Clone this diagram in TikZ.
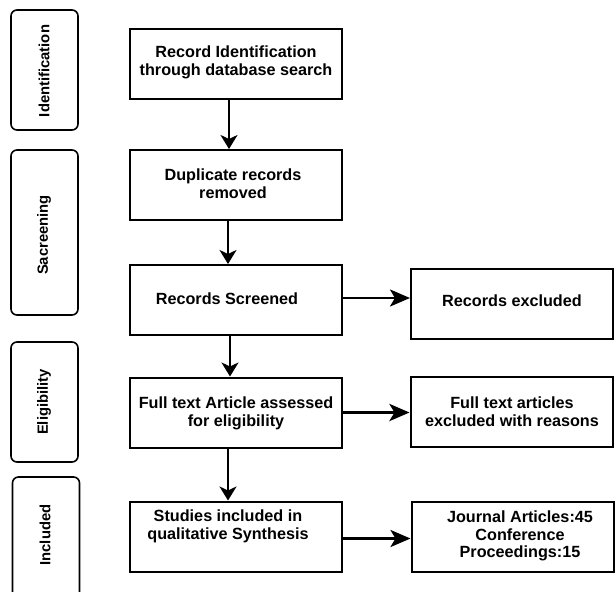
\documentclass[tikz,border=0pt]{standalone}
\usepackage{fontspec}
\setmainfont{Liberation Sans}
\usetikzlibrary{arrows.meta}
\begin{document}
\begin{tikzpicture}[x=1pt,y=-1pt,
  box/.style={draw=black,line width=2pt,minimum width=212pt,minimum height=70pt,inner sep=0pt},
  rbox/.style={draw=black,line width=2pt,minimum width=202pt,minimum height=70pt,inner sep=0pt},
  side/.style={draw=black,line width=1.6pt,rounded corners=6pt,minimum width=67pt,inner sep=0pt},
  txt/.style={align=center,inner sep=0pt,font=\fontsize{16.2}{17.8}\selectfont\bfseries},
  stxt/.style={inner sep=0pt,rotate=90,font=\fontsize{14.8}{17}\selectfont\bfseries},
  varr/.style={line width=2.2pt,-{Stealth[length=14pt,width=17pt,inset=4pt]}},
  harr/.style={line width=2.6pt,-{Stealth[length=20pt,width=17pt,inset=5pt]}}]
\useasboundingbox (0,0) rectangle (615,591);
\clip (0,0) rectangle (615,591);
% side boxes
\node[side,minimum height=120pt] (s1) at (44.5,70) {};
\node[stxt] (s1t) at (44,71) {Identification};
\node[side,minimum height=165pt] (s2) at (44.5,232.5) {};
\node[stxt] (s2t) at (44,235) {Sacreening};
\node[side,minimum height=120pt] (s3) at (44.5,402) {};
\node[stxt] (s3t) at (44,402) {Eligibility};
\node[side,minimum height=140pt] (s4) at (46,547) {};
\node[stxt] (s4t) at (45,535) {Included};
% main boxes
\node[box] (b1) at (236,64) {};
\node[txt] (b1t) at (236,62) {Record Identification\\through database search};
\node[box] (b2) at (236,185) {};
\node[txt] (b2t) at (233,184) {Duplicate records\\removed};
\node[box] (b3) at (236,300) {};
\node[txt] (b3t) at (227,299) {Records Screened};
\node[box] (b4) at (236,412.5) {};
\node[txt] (b4t) at (236,413) {Full text Article assessed\\for eligibility};
\node[box] (b5) at (236,536.5) {};
\node[txt] (b5t) at (228,526) {Studies included in\\qualitative Synthesis};
% right boxes
\node[rbox] (r1) at (512,304) {};
\node[txt] (r1t) at (512,301) {Records excluded};
\node[rbox] (r2) at (511.5,412) {};
\node[txt] (r2t) at (512,412) {Full text articles\\excluded with reasons};
\node[rbox] (r3) at (512.5,537) {};
\node[txt] (r3t) at (520,536) {Journal Articles:45\\Conference\\Proceedings:15};
% vertical arrows
\draw[varr] ([xshift=-7pt]b1.south) -- ([xshift=-7pt]b1.south |- b2.north);
\draw[varr] ([xshift=-8pt]b2.south) -- ([xshift=-8pt]b2.south |- b3.north);
\draw[varr] ([xshift=-6pt]b3.south) -- ([xshift=-6pt]b3.south |- b4.north);
\draw[varr] ([xshift=-8pt]b4.south) -- ([xshift=-8pt]b4.south |- b5.north);
% horizontal arrows
\draw[harr] ([yshift=2pt]b3.east) -- ([yshift=2pt]b3.east -| r1.west);
\draw[harr,line width=3.6pt] (b4.east) -- (b4.east -| r2.west);
\draw[harr] ([yshift=-2pt]b5.east) -- ([yshift=-2pt]b5.east -| r3.west);
\end{tikzpicture}
\end{document}
